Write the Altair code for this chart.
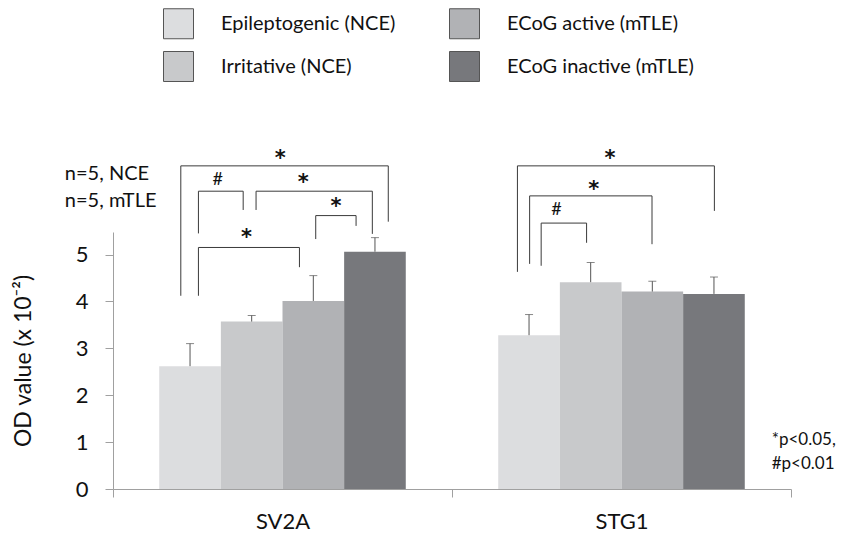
import altair as alt
import pandas as pd

# ---------------- data ----------------
groups = ["SV2A", "STG1"]
series = ["Epileptogenic (NCE)", "Irritative (NCE)", "ECoG active (mTLE)", "ECoG inactive (mTLE)"]
series_colors = ["#dcdddf", "#c8c9cb", "#b1b2b5", "#77787c"]

sv2a_means = [2.62, 3.57, 4.01, 5.06]
sv2a_upper = [3.10, 3.70, 4.55, 5.36]
stg1_means = [3.28, 4.41, 4.21, 4.16]
stg1_upper = [3.72, 4.83, 4.43, 4.52]

# significance brackets (x in group units: SV2A spans 0..1, STG1 spans 1..2; y in OD units)
br_x1 = [0.200, 0.252, 0.422, 0.598, 0.252, 1.193, 1.229, 1.263]
br_x2 = [0.812, 0.384, 0.765, 0.717, 0.550, 1.774, 1.590, 1.397]
br_top = [6.89, 6.35, 6.35, 5.83, 5.15, 6.89, 6.25, 5.67]
br_left = [4.12, 5.45, 5.95, 5.33, 4.12, 4.63, 4.80, 4.76]
br_right = [5.70, 5.95, 5.44, 5.61, 4.73, 5.93, 5.22, 5.25]
br_label = ["*", "#", "*", "*", "*", "*", "*", "#"]
br_lx = [0.493, 0.309, 0.561, 0.658, 0.394, 1.466, 1.418, 1.308]
br_ly = [7.17, 6.62, 6.66, 6.15, 5.49, 7.17, 6.50, 5.97]

n_text = ["n=5, NCE", "n=5, mTLE"]
n_x = [-0.142, -0.142]
n_y = [6.72, 6.14]

p_text = ["*p<0.05,", "#p<0.01"]
p_x = [1.943, 1.943]
p_y = [1.04, 0.53]

YTITLE = "OD value (x 10\u207b\u00b2)"

bars_df = pd.DataFrame({
    "group": [g for g in groups for _ in series],
    "series": series * 2,
    "mean": sv2a_means + stg1_means,
    "upper": sv2a_upper + stg1_upper,
})
br_df = pd.DataFrame({"x1": br_x1, "x2": br_x2, "top": br_top, "yl": br_left,
                      "yr": br_right, "label": br_label, "lx": br_lx, "ly": br_ly})
n_df = pd.DataFrame({"t": n_text, "x": n_x, "y": n_y})
p_df = pd.DataFrame({"t": p_text, "x": p_x, "y": p_y})

# ---------------- scales ----------------
xband = alt.Scale(domain=groups, paddingInner=0, paddingOuter=0)
xoff = alt.Scale(domain=series, paddingInner=0, paddingOuter=0.75)
yscale = alt.Scale(domain=[0, 5.48], nice=False, zero=True)
bx = alt.Scale(domain=[0, 2], nice=False, zero=False)

AX = "#a0a0a0"
TXT = "#111111"

base = alt.Chart(bars_df)

bars = base.mark_bar(clip=False).encode(
    x=alt.X("group:N", scale=xband, sort=groups,
            axis=alt.Axis(title=None, labelAngle=0, tickBand="extent", tickSize=8,
                          labelFontSize=22, labelFont="Lato", labelPadding=14,
                          labelColor=TXT, domainColor=AX, tickColor=AX)),
    xOffset=alt.XOffset("series:N", scale=xoff, sort=series),
    y=alt.Y("mean:Q", scale=yscale,
            axis=alt.Axis(values=[0, 1, 2, 3, 4, 5], title=YTITLE, grid=False, tickSize=8,
                          labelFontSize=22, labelFont="Lato", labelPadding=17, labelColor=TXT,
                          domainColor=AX, tickColor=AX, titleFont="Lato", titleFontSize=23,
                          titleFontWeight="normal", titleColor=TXT, titlePadding=40)),
    color=alt.Color("series:N", scale=alt.Scale(domain=series, range=series_colors),
                    legend=alt.Legend(orient="none", legendX=50, legendY=-224, columns=2,
                                      columnPadding=51, rowPadding=8, symbolType="square",
                                      symbolSize=900, symbolStrokeColor="#555555",
                                      symbolStrokeWidth=1, symbolOpacity=1,
                                      labelFont="Lato", labelFontSize=20, labelOffset=27,
                                      labelColor=TXT, labelLimit=0, title=None, padding=0)),
)

err_rule = base.mark_rule(color="#555555", strokeWidth=1, clip=False).encode(
    x=alt.X("group:N", scale=xband, sort=groups, axis=None),
    xOffset=alt.XOffset("series:N", scale=xoff, sort=series),
    y=alt.Y("mean:Q", scale=yscale, title=YTITLE),
    y2="upper:Q",
)
err_cap = base.mark_tick(color="#555555", thickness=1, size=8, clip=False).encode(
    x=alt.X("group:N", scale=xband, sort=groups, axis=None),
    xOffset=alt.XOffset("series:N", scale=xoff, sort=series),
    y=alt.Y("upper:Q", scale=yscale, title=YTITLE),
)

bc = alt.Chart(br_df)
LINE = "#3a3a3a"
leg_l = bc.mark_rule(color=LINE, strokeWidth=1, clip=False).encode(
    x=alt.X("x1:Q", scale=bx, axis=None), y=alt.Y("top:Q", title=YTITLE), y2="yl:Q")
leg_r = bc.mark_rule(color=LINE, strokeWidth=1, clip=False).encode(
    x=alt.X("x2:Q", scale=bx, axis=None), y=alt.Y("top:Q", title=YTITLE), y2="yr:Q")
hbar = bc.mark_rule(color=LINE, strokeWidth=1, clip=False).encode(
    x=alt.X("x1:Q", scale=bx, axis=None), x2="x2:Q", y=alt.Y("top:Q", title=YTITLE))

stars = bc.transform_filter(alt.datum.label == "*").mark_text(
    font="DejaVu Sans", fontSize=21, fontWeight="bold", baseline="alphabetic",
    align="center", dy=12, color=TXT, clip=False).encode(
    x=alt.X("lx:Q", scale=bx, axis=None), y=alt.Y("ly:Q", title=YTITLE), text="label:N")
hashes = bc.transform_filter(alt.datum.label == "#").mark_text(
    font="Lato", fontSize=18, baseline="alphabetic", align="center", dy=6,
    color=TXT, clip=False).encode(
    x=alt.X("lx:Q", scale=bx, axis=None), y=alt.Y("ly:Q", title=YTITLE), text="label:N")

ntext = alt.Chart(n_df).mark_text(font="Lato", fontSize=20, align="left", baseline="middle",
                                  color=TXT, clip=False).encode(
    x=alt.X("x:Q", scale=bx, axis=None), y=alt.Y("y:Q", title=YTITLE), text="t:N")
ptext = alt.Chart(p_df).mark_text(font="Lato", fontSize=17, align="left", baseline="middle",
                                  color=TXT, clip=False).encode(
    x=alt.X("x:Q", scale=bx, axis=None), y=alt.Y("y:Q", title=YTITLE), text="t:N")

chart = alt.layer(bars, err_rule, err_cap, leg_l, leg_r, hbar, stars, hashes, ntext, ptext).resolve_scale(
    x="independent"
).properties(
    width=678, height=257,
    autosize=alt.AutoSizeParams(type="none"),
    padding={"left": 105, "top": 224, "right": 48, "bottom": 46},
).configure_view(stroke=None)

chart.save("out.html", embed_options={"renderer": "svg", "actions": False})
